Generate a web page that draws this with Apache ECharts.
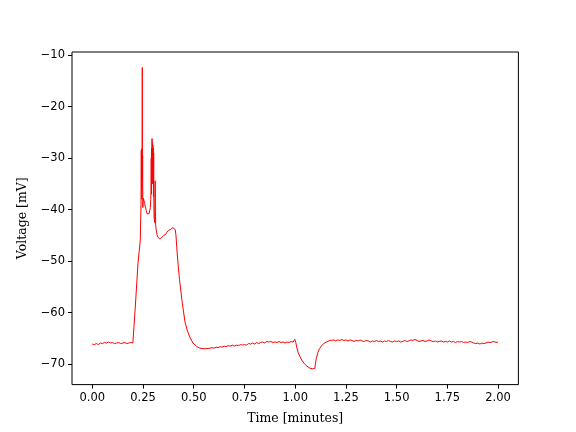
<!DOCTYPE html>
<html>
<head>
<meta charset="utf-8">
<script src="https://cdn.jsdelivr.net/npm/echarts@6/dist/echarts.min.js"></script>
<style>html,body{margin:0;padding:0;background:#fff}#c{width:576px;height:432px}</style>
</head>
<body>
<div id="c"></div>
<script>
// Time in minutes
const timeMin = [
  0.00,0.01,0.02,0.03,0.04,0.05,0.06,0.07,0.08,0.09,0.10,0.11,0.12,0.13,0.14,0.15,0.16,0.17,0.18,0.19,0.20,
  0.2055,0.2119,0.2252,0.2366,
  0.2400,0.2415,0.2425,0.2435,0.2445,0.2455,0.2464,0.2472,0.2480,0.2490,0.2500,0.2520,0.2550,0.2580,0.2620,
  0.2660,0.2700,0.2740,0.2770,0.2800,0.2830,0.2860,0.2880,0.2893,0.2905,0.2915,0.2925,0.2935,0.2945,0.2955,
  0.2965,0.2975,0.2985,0.2995,0.3005,0.3015,0.3025,0.3035,0.3045,0.3060,0.3075,0.3090,0.3100,0.3110,0.3125,
  0.3150,0.3190,0.3230,0.3270,0.3320,0.3370,0.3420,0.3470,0.3520,0.3570,0.3620,0.3670,0.3720,0.3770,0.3820,
  0.3870,0.3920,0.3970,0.4020,0.4060,0.4090,0.4125,0.4160,0.4200,0.4240,0.4300,0.4360,0.4420,0.4485,0.4570,
  0.4667,0.4815,0.4963,0.5160,0.5300,0.5456,0.5600,0.5801,
  0.59,0.60,0.61,0.62,0.63,0.64,0.65,0.66,0.67,0.68,0.69,0.70,0.71,0.72,0.73,0.74,0.75,0.76,0.77,0.78,0.79,
  0.80,0.81,0.82,0.83,0.84,0.85,0.86,0.87,0.88,0.89,0.90,0.91,0.92,0.93,0.94,0.95,0.96,0.97,0.98,0.99,0.998,
  1.003,1.008,1.015,1.024,1.032,1.045,1.058,1.066,1.073,1.080,1.086,1.092,1.097,1.100,1.104,1.112,1.120,1.129,
  1.140,1.154,1.171,
  1.18,1.19,1.20,1.21,1.22,1.23,1.24,1.25,1.26,1.27,1.28,1.29,1.30,1.31,1.32,1.33,1.34,1.35,1.36,1.37,1.38,1.39,
  1.40,1.41,1.42,1.43,1.44,1.45,1.46,1.47,1.48,1.49,1.50,1.51,1.52,1.53,1.54,1.55,1.56,1.57,1.58,1.59,
  1.60,1.61,1.62,1.63,1.64,1.65,1.66,1.67,1.68,1.69,1.70,1.71,1.72,1.73,1.74,1.75,1.76,1.77,1.78,1.79,
  1.80,1.81,1.82,1.83,1.84,1.85,1.86,1.87,1.88,1.89,1.90,1.91,1.92,1.93,1.94,1.95,1.96,1.97,1.98,1.99,2.00
];
// Membrane voltage in mV
const voltageMv = [
  -66.1,-66.2,-66.0,-66.2,-65.9,-66.0,-65.8,-65.9,-65.7,-65.9,-65.8,-66.0,-65.9,-65.8,-66.0,-65.9,-65.8,-66.0,-65.9,-65.8,-65.9,
  -65.7,-58.9,-50.4,-45.9,
  -39.0,-28.5,-36.0,-28.2,-38.0,-30.0,-12.4,-34.0,-29.5,-39.6,-38.5,-37.8,-38.0,-38.8,-39.5,
  -40.2,-40.8,-41.1,-41.0,-40.8,-40.5,-39.6,-38.0,-36.5,-30.0,-37.0,-28.0,-33.0,-26.2,-31.0,
  -27.0,-35.0,-27.5,-31.0,-28.0,-37.5,-29.0,-39.0,-41.5,-42.0,-42.5,-38.0,-34.4,-40.0,-43.0,
  -44.0,-44.8,-45.3,-45.6,-45.7,-45.5,-45.4,-45.1,-45.0,-44.7,-44.8,-44.4,-44.3,-44.0,-44.1,
  -43.8,-43.8,-43.5,-43.6,-43.3,-43.9,-45.0,-47.2,-49.2,-51.1,-53.6,-55.6,-57.7,-59.5,-61.8,
  -63.3,-64.8,-65.9,-66.6,-66.9,-67.0,-67.0,-66.9,
  -66.8,-66.9,-66.7,-66.8,-66.6,-66.7,-66.5,-66.6,-66.4,-66.5,-66.3,-66.5,-66.3,-66.4,-66.2,-66.3,-66.2,-66.3,-66.0,-66.1,-65.9,
  -66.1,-65.8,-66.0,-65.8,-65.7,-65.9,-65.6,-65.7,-65.6,-65.8,-65.7,-65.8,-65.6,-65.8,-65.7,-65.9,-65.7,-65.8,-65.6,-65.7,-65.2,
  -65.8,-66.8,-67.8,-68.6,-69.2,-69.9,-70.4,-70.6,-70.8,-71.0,-70.9,-71.0,-70.8,-69.8,-68.9,-67.7,-67.0,-66.5,
  -66.0,-65.7,-65.4,
  -65.4,-65.3,-65.5,-65.3,-65.4,-65.2,-65.4,-65.3,-65.5,-65.3,-65.4,-65.6,-65.4,-65.5,-65.3,-65.5,-65.6,-65.4,-65.5,-65.7,-65.5,-65.6,
  -65.4,-65.6,-65.5,-65.7,-65.5,-65.6,-65.4,-65.6,-65.7,-65.5,-65.6,-65.5,-65.7,-65.6,-65.4,-65.6,-65.5,-65.3,-65.4,-65.2,
  -65.4,-65.6,-65.5,-65.4,-65.6,-65.5,-65.3,-65.5,-65.6,-65.5,-65.7,-65.6,-65.5,-65.7,-65.6,-65.7,-65.5,-65.7,-65.6,-65.8,
  -65.6,-65.7,-65.6,-65.8,-65.7,-65.8,-65.6,-65.7,-65.9,-66.0,-65.9,-66.1,-65.9,-66.0,-65.9,-65.7,-65.8,-65.7,-65.6,-65.8,-65.7
];
const xTicks = [0, 0.25, 0.5, 0.75, 1.0, 1.25, 1.5, 1.75, 2.0];
const yTicks = [-70, -60, -50, -40, -30, -20, -10];

const data = timeMin.map((t, i) => [t, voltageMv[i]]);
const chart = echarts.init(document.getElementById('c'), null, {renderer: 'canvas'});
const tickFont = {fontFamily: 'DejaVu Sans', fontSize: 11.5, color: '#000'};
const nameFont = {fontFamily: 'DejaVu Serif', fontSize: 12.5, color: '#000'};
chart.setOption({
  animation: false,
  backgroundColor: '#fff',
  grid: {left: 72, top: 52, width: 446.4, height: 332.6, show: true, borderColor: '#000', borderWidth: 1, backgroundColor: 'transparent'},
  xAxis: {
    type: 'value', min: -0.1, max: 2.1,
    name: 'Time [minutes]', nameLocation: 'middle', nameGap: 28,
    nameTextStyle: nameFont,
    axisLine: {show: false, onZero: false},
    axisTick: {show: true, inside: false, length: 4, lineStyle: {color: '#000'}, customValues: xTicks},
    axisLabel: Object.assign({margin: 7, customValues: xTicks, formatter: v => v.toFixed(2)}, tickFont),
    splitLine: {show: false}
  },
  yAxis: {
    type: 'value', min: -73.97, max: -9.39,
    name: 'Voltage [mV]', nameLocation: 'middle', nameGap: 43, nameRotate: 90,
    nameTextStyle: nameFont,
    axisLine: {show: false, onZero: false},
    axisTick: {show: true, inside: false, length: 4, lineStyle: {color: '#000'}, customValues: yTicks},
    axisLabel: Object.assign({margin: 7, customValues: yTicks, formatter: v => (v < 0 ? '\u2212' + Math.abs(v) : String(v))}, tickFont),
    splitLine: {show: false}
  },
  series: [{
    type: 'line', data: data, showSymbol: false, symbol: 'none',
    lineStyle: {color: '#ff0000', width: 1},
    clip: true
  }]
});
</script>
</body>
</html>
